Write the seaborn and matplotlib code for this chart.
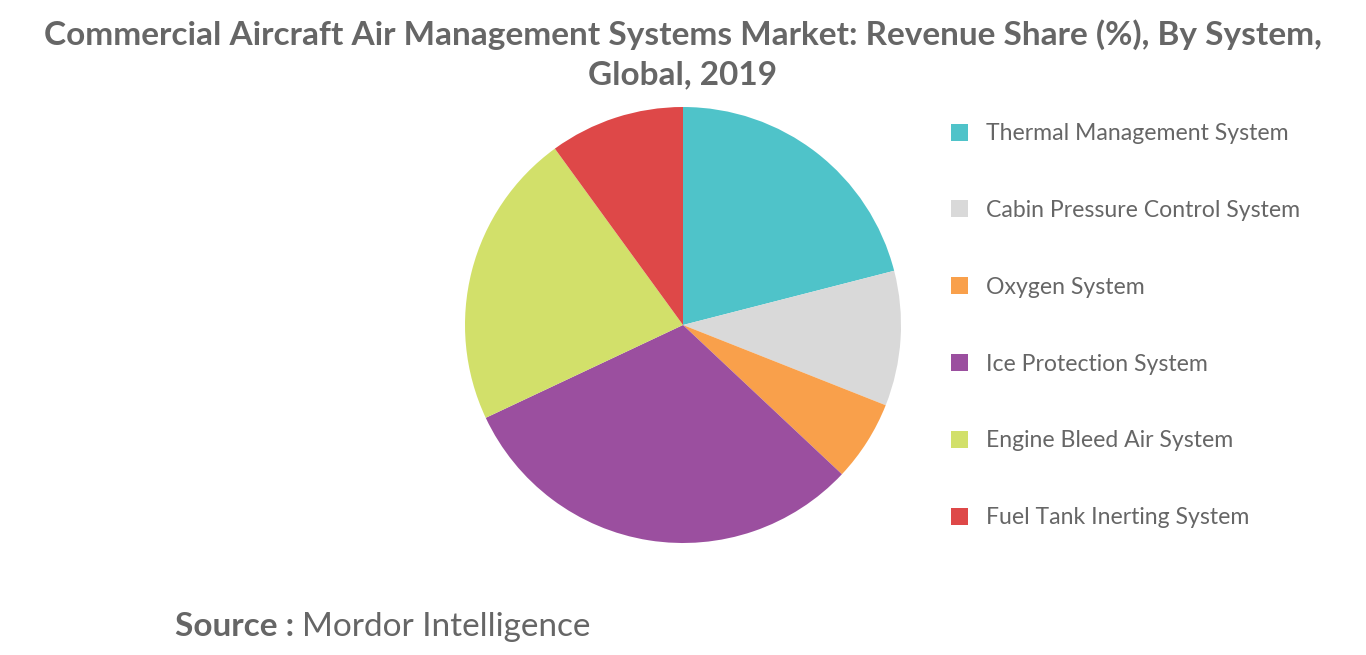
import matplotlib
matplotlib.use("Agg")
import matplotlib.pyplot as plt
import seaborn as sns
from matplotlib.patches import Patch

sns.set_theme(style="white")

systems = ["Thermal Management System", "Cabin Pressure Control System", "Oxygen System",
           "Ice Protection System", "Engine Bleed Air System", "Fuel Tank Inerting System"]
shares = [21, 10, 6, 31, 22, 10]
colors = ["#4FC3C9", "#D9D9D9", "#F9A04B", "#9B4F9F", "#D2E06A", "#DE4848"]

fig = plt.figure(figsize=(13.66, 6.55), dpi=100)
ax = fig.add_axes([683/1366 - 218/1366, (655-543)/655, 436/1366, 436/655])
ax.pie(shares, colors=colors, startangle=90, counterclock=False,
       wedgeprops=dict(linewidth=0))
ax.set_xlim(-1, 1)
ax.set_ylim(-1, 1)
ax.set_aspect("equal")

fig.text(0.5, 1 - 35/655, "Commercial Aircraft Air Management Systems Market: Revenue Share (%), By System,",
         ha="center", va="center", fontsize=24, fontweight="bold", color="#666666", family="Lato")
fig.text(0.5, 1 - 75/655, "Global, 2019", ha="center", va="center", fontsize=24,
         fontweight="bold", color="#666666", family="Lato")

handles = [Patch(facecolor=c, edgecolor="none") for c in colors]
leg = fig.legend(handles, systems, loc="upper left", bbox_to_anchor=(935/1366, 1 - 107/655),
                 frameon=False, labelspacing=2.42, handlelength=0.75, handleheight=0.75,
                 handletextpad=0.75, borderpad=0.2, prop=dict(family="Lato", size=16.6))
for t in leg.get_texts():
    t.set_color("#666666")

fig.text(175/1366, 1 - 627/655, "Source :", ha="left", va="center", fontsize=24,
         fontweight="bold", color="#666666", family="Lato")
fig.text(302/1366, 1 - 627/655, "Mordor Intelligence", ha="left", va="center", fontsize=24,
         color="#666666", family="Lato")

fig.savefig("out.png", dpi=100)
